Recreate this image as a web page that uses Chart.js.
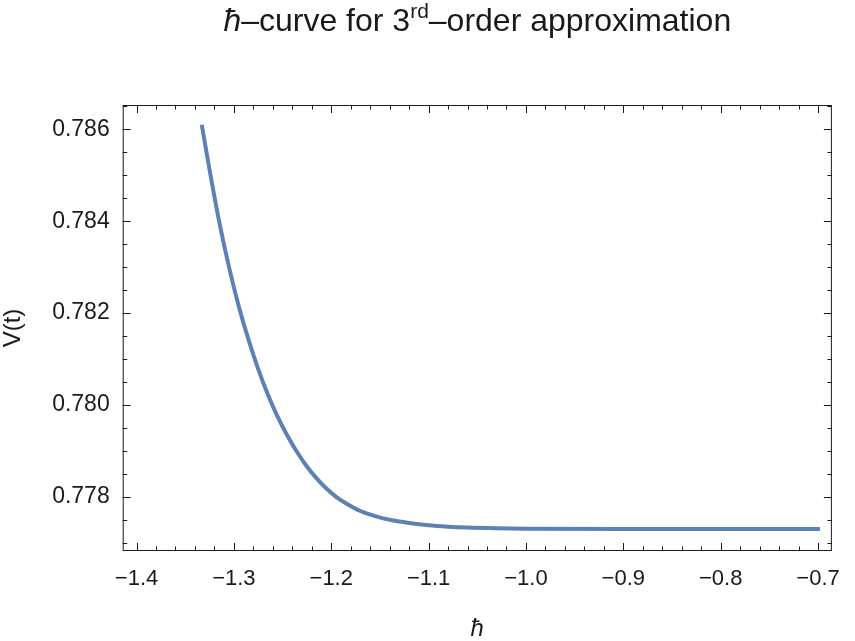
<!DOCTYPE html>
<html>
<head>
<meta charset="utf-8">
<script src="https://cdn.jsdelivr.net/npm/chart.js@4.4.1/dist/chart.umd.min.js"></script>
<style>
	html, body { margin: 0; padding: 0; background: #fff; }
	#wrap { width: 855px; height: 641px; }
</style>
</head>
<body>
<div id="wrap"><canvas id="chart1" width="855" height="641"></canvas></div>
<script>
"use strict";

// hbar values along the curve and V(t)
var hbarVals = [-1.333, -1.325, -1.315, -1.305, -1.295, -1.285, -1.275, -1.265, -1.255, -1.245,
	-1.235, -1.225, -1.215, -1.205, -1.195, -1.185, -1.170, -1.155, -1.140, -1.120, -1.100,
	-1.080, -1.060, -1.030, -1.000, -0.900, -0.800, -0.698];
var vVals = [0.78610, 0.78512, 0.78398, 0.78300, 0.78215, 0.78142, 0.78078, 0.78022, 0.77974, 0.77933,
	0.77897, 0.77866, 0.77840, 0.77818, 0.77800, 0.77786, 0.77769, 0.77758, 0.77750, 0.77743, 0.77738,
	0.77735, 0.77733, 0.777315, 0.777307, 0.77730, 0.77730, 0.77730];

var xTicks = [-1.4, -1.3, -1.2, -1.1, -1.0, -0.9, -0.8, -0.7];
var yTicks = [0.778, 0.780, 0.782, 0.784, 0.786];
var xMinorStep = 0.02;
var yMinorStep = 0.0005;

var FONT = "'Liberation Sans', Arial, sans-serif";
var INK = "#1a1a1a";

function fmtMinus(s) { return s.replace("-", "\u2212"); }

// frame, inward ticks, title and axis labels
var framePlugin = {
	id: "frame",
	afterDraw: function (chart) {
		var ctx = chart.ctx, a = chart.chartArea;
		var xs = chart.scales.x, ys = chart.scales.y;
		ctx.save();
		ctx.strokeStyle = INK;
		ctx.lineWidth = 1;
		ctx.strokeRect(a.left + 0.5, a.top + 0.5, a.right - a.left - 1, a.bottom - a.top - 1);

		function tick(x1, y1, x2, y2) {
			ctx.beginPath(); ctx.moveTo(x1, y1); ctx.lineTo(x2, y2); ctx.stroke();
		}
		var v, px, k;
		for (k = Math.ceil(xs.min / xMinorStep); k * xMinorStep <= xs.max; k++) {
			v = k * xMinorStep;
			px = Math.round(xs.getPixelForValue(v)) + 0.5;
			var major = xTicks.some(function (t) { return Math.abs(t - v) < 1e-6; });
			var len = major ? 8 : 4.5;
			tick(px, a.bottom, px, a.bottom - len);
			tick(px, a.top, px, a.top + len);
		}
		for (k = Math.ceil(ys.min / yMinorStep); k * yMinorStep <= ys.max; k++) {
			v = k * yMinorStep;
			px = Math.round(ys.getPixelForValue(v)) + 0.5;
			var majorY = yTicks.some(function (t) { return Math.abs(t - v) < 1e-7; });
			var lenY = majorY ? 8 : 4.5;
			tick(a.left, px, a.left + lenY, px);
			tick(a.right, px, a.right - lenY, px);
		}

		// title with superscript
		ctx.fillStyle = INK;
		ctx.textBaseline = "alphabetic";
		var parts = [
			{ t: "\u0127", f: "italic 32px " + FONT, dy: 0 },
			{ t: "\u2013curve for 3", f: "32px " + FONT, dy: 0 },
			{ t: "rd", f: "21px " + FONT, dy: -13 },
			{ t: "\u2013order approximation", f: "32px " + FONT, dy: 0 }
		];
		var total = 0;
		parts.forEach(function (p) { ctx.font = p.f; p.w = ctx.measureText(p.t).width; total += p.w; });
		var tx = (a.left + a.right) / 2 - total / 2, ty = 31;
		parts.forEach(function (p) { ctx.font = p.f; ctx.fillText(p.t, tx, ty + p.dy); tx += p.w; });

		// axis labels
		ctx.textAlign = "center";
		ctx.textBaseline = "middle";
		ctx.font = "italic 24px " + FONT;
		ctx.fillText("\u0127", (a.left + a.right) / 2, 629);
		ctx.translate(13, (a.top + a.bottom) / 2);
		ctx.rotate(-Math.PI / 2);
		ctx.font = "24px " + FONT;
		ctx.fillText("V(t)", 0, 0);
		ctx.restore();
	}
};

var points = hbarVals.map(function (h, i) { return { x: h, y: vVals[i] }; });

new Chart(document.getElementById("chart1"), {
	type: "scatter",
	data: {
		datasets: [{
			data: points,
			showLine: true,
			borderColor: "#5e81b5",
			borderWidth: 4,
			pointRadius: 0,
			cubicInterpolationMode: "monotone",
			fill: false
		}]
	},
	options: {
		responsive: false,
		animation: false,
		events: [],
		layout: { padding: { left: 0, right: 11.7, top: 105, bottom: 30 } },
		plugins: { legend: { display: false }, tooltip: { enabled: false }, title: { display: false } },
		scales: {
			x: {
				type: "linear",
				min: -1.4142,
				max: -0.6858,
				grid: { display: false, drawTicks: false },
				border: { display: false },
				afterBuildTicks: function (s) { s.ticks = xTicks.map(function (v) { return { value: v }; }); },
				afterFit: function (s) { s.height = 60; },
				ticks: {
					padding: 15,
					maxRotation: 0,
					autoSkip: false,
					color: INK,
					font: { family: FONT, size: 22 },
					callback: function (v) { return fmtMinus(Number(v).toFixed(1)); }
				}
			},
			y: {
				min: 0.77682,
				max: 0.78653,
				grid: { display: false, drawTicks: false },
				border: { display: false },
				afterBuildTicks: function (s) { s.ticks = yTicks.map(function (v) { return { value: v }; }); },
				afterFit: function (s) { s.width = 122.7; },
				ticks: {
					padding: 13,
					autoSkip: false,
					color: INK,
					font: { family: FONT, size: 23 },
					callback: function (v) { return Number(v).toFixed(3); }
				}
			}
		}
	},
	plugins: [framePlugin]
});
</script>
</body>
</html>
